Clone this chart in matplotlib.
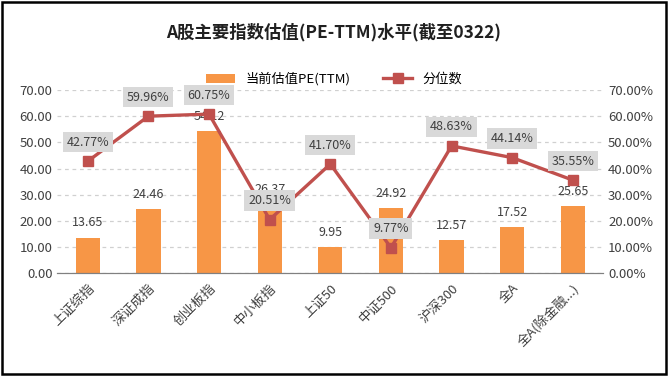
import matplotlib
matplotlib.use("Agg")
import matplotlib.pyplot as plt
from matplotlib.patches import Rectangle
from matplotlib.ticker import FuncFormatter

plt.rcParams['font.family'] = ['Noto Sans CJK SC', 'DejaVu Sans']

categories = ["上证综指", "深证成指", "创业板指", "中小板指", "上证50",
              "中证500", "沪深300", "全A", "全A(除金融...)"]
pe_ttm = [13.65, 24.46, 54.12, 26.37, 9.95, 24.92, 12.57, 17.52, 25.65]
percentile = [42.77, 59.96, 60.75, 20.51, 41.70, 9.77, 48.63, 44.14, 35.55]

bar_color = "#F79646"
line_color = "#C0504D"

fig = plt.figure(figsize=(6.68, 3.76), dpi=100)
ax = fig.add_axes([0.086, 0.273, 0.817, 0.488])
ax2 = ax.twinx()

x = list(range(len(categories)))
bars = ax.bar(x, pe_ttm, width=0.4, color=bar_color, label="当前估值PE(TTM)", zorder=2)
ax.set_xlim(-0.5, len(categories) - 0.5)
ax.set_ylim(0, 70)
ax.set_yticks(range(0, 71, 10))
ax.yaxis.set_major_formatter(FuncFormatter(lambda v, p: f"{v:.2f}"))
ax.grid(axis="y", linestyle=(0, (3, 3)), color="#D0D0D0", lw=0.9, zorder=0)
ax.set_axisbelow(True)

for b, v in zip(bars, pe_ttm):
    ax.annotate(f"{v:.2f}", (b.get_x() + b.get_width() / 2, v), xytext=(0, 6),
                textcoords="offset points", ha="center", va="bottom",
                fontsize=9, color="#404040")

line, = ax2.plot(x, percentile, color=line_color, lw=2.4, marker="s", ms=6.5,
                 label="分位数", zorder=3)
ax2.set_ylim(0, 70)
ax2.set_yticks(range(0, 71, 10))
ax2.yaxis.set_major_formatter(FuncFormatter(lambda v, p: f"{v:.2f}%"))

for xi, v in zip(x, percentile):
    ax2.annotate(f"{v:.2f}%", (xi, v), xytext=(0, 9), textcoords="offset points",
                 ha="center", va="bottom", fontsize=9, color="#404040",
                 bbox=dict(boxstyle="square,pad=0.3", fc="#D9D9D9", ec="none"),
                 zorder=5)

for a in (ax, ax2):
    for s in ("top", "left", "right"):
        a.spines[s].set_visible(False)
    a.spines["bottom"].set_color("#808080")
    a.tick_params(length=0, labelsize=9.5, labelcolor="#404040")

ax.set_xticks(x)
ax.set_xticklabels(categories, rotation=45, ha="right", rotation_mode="anchor",
                   fontsize=9.5)
ax.tick_params(axis="x", pad=6)

fig.text(0.5, 0.915, "A股主要指数估值(PE-TTM)水平(截至0322)", ha="center", va="center",
         fontsize=12.5, fontweight="bold", color="#202020")
fig.legend([bars, line], ["当前估值PE(TTM)", "分位数"], loc="center",
           bbox_to_anchor=(0.5, 0.79), ncol=2, frameon=False, fontsize=9.5,
           handlelength=2.2, columnspacing=2.5)

fig.patches.append(Rectangle((0.003, 0.005), 0.994, 0.99, transform=fig.transFigure,
                             fill=False, edgecolor="black", lw=1.8))

fig.savefig("out.png", dpi=100)
